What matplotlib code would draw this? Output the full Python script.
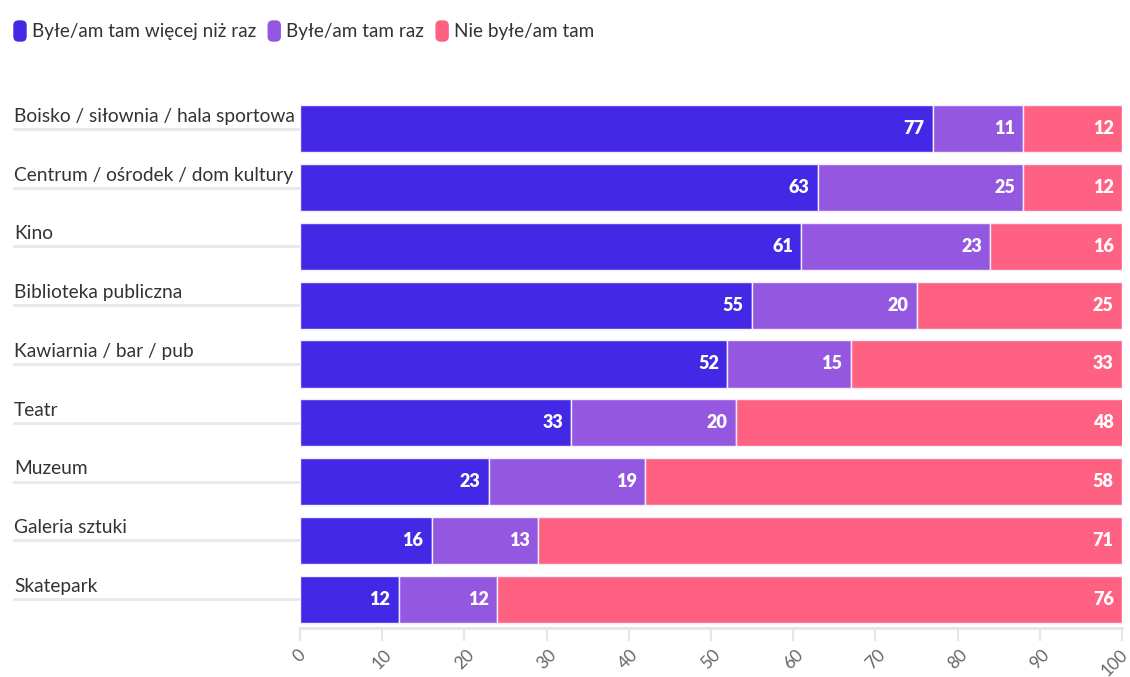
import matplotlib
matplotlib.use("Agg")
import matplotlib.pyplot as plt
from matplotlib.patches import FancyBboxPatch
from matplotlib.transforms import blended_transform_factory, ScaledTranslation
from matplotlib.lines import Line2D
import numpy as np

categories = [
    "Boisko / siłownia / hala sportowa",
    "Centrum / ośrodek / dom kultury",
    "Kino",
    "Biblioteka publiczna",
    "Kawiarnia / bar / pub",
    "Teatr",
    "Muzeum",
    "Galeria sztuki",
    "Skatepark",
]
series_names = ["Byłe/am tam więcej niż raz", "Byłe/am tam raz", "Nie byłe/am tam"]
more_than_once = [77, 63, 61, 55, 52, 33, 23, 16, 12]
once = [11, 25, 23, 20, 15, 20, 19, 13, 12]
never = [12, 12, 16, 25, 33, 48, 58, 71, 76]
x_ticks = [0, 10, 20, 30, 40, 50, 60, 70, 80, 90, 100]

colors = ["#4329E6", "#9457E0", "#FF6182"]
FONT = ["Lato", "DejaVu Sans"]
plt.rcParams["font.family"] = FONT

W, H = 1130, 677
fig = plt.figure(figsize=(W / 100, H / 100), dpi=100)
ax = fig.add_axes([300 / W, 1 - 628.4 / H, 822 / W, 528.8 / H])
XMAX = 100

y = np.arange(len(categories))
series = [more_than_once, once, never]
left = np.zeros(len(categories))

# faint row guide lines
for i in y:
    ax.axhline(i, color="#ececec", lw=2, zorder=0)

for vals, col in zip(series, colors):
    vals = np.array(vals, dtype=float)
    bars = ax.barh(y, vals, left=left, height=0.8, color=col,
                   edgecolor="#f4eefc", linewidth=1, zorder=2)
    for b, v in zip(bars, vals):
        end = min(b.get_x() + b.get_width(), XMAX)
        ax.annotate(f"{int(v)}", xy=(end, b.get_y() + b.get_height() / 2),
                    xytext=(-6, 0), textcoords="offset points",
                    ha="right", va="center", color="white", fontsize=13,
                    fontweight="heavy", zorder=3, clip_on=False)
    left = left + vals

ax.set_xlim(0, XMAX)
ax.set_ylim(len(categories) - 0.5, -0.5)
ax.set_xticks(x_ticks)
ax.set_xticklabels([str(t) for t in x_ticks], rotation=45, ha="center", va="top",
                   fontsize=12.5, color="#666666")
ax.tick_params(axis="x", length=9, width=1.5, color="#e6e6e6", pad=4)
# keep the last tick label inside the canvas
last = ax.get_xticklabels()[-1]
last.set_transform(last.get_transform() + ScaledTranslation(-5 / 72, 0, fig.dpi_scale_trans))
ax.set_yticks([])
for s in ["top", "right", "left"]:
    ax.spines[s].set_visible(False)
ax.spines["bottom"].set_color("#e6e6e6")
ax.spines["bottom"].set_linewidth(2)

# category labels above an underline on the left
tr = blended_transform_factory(fig.transFigure, ax.transData)
for i, name in enumerate(categories):
    ax.text(14 / W, i - 0.07, name, transform=tr, ha="left", va="bottom",
            fontsize=13.8, color="#333333", clip_on=False)
    ax.add_line(Line2D([14 / W, 300 / W], [i, i], transform=tr, color="#e8e8e8",
                       lw=2, clip_on=False, zorder=0))

# legend with rounded swatches
renderer = fig.canvas.get_renderer()
x = 14
yc = 1 - 31 / H
for name, col in zip(series_names, colors):
    patch = FancyBboxPatch((x / W, 1 - 41 / H), 12 / W, 20 / H,
                           boxstyle="round,pad=0,rounding_size=0.004",
                           transform=fig.transFigure, color=col,
                           mutation_aspect=W / H)
    fig.patches.append(patch)
    t = fig.text((x + 18) / W, yc, name, ha="left", va="center",
                 fontsize=13.6, color="#333333")
    bb = t.get_window_extent(renderer)
    x = bb.x1 + 12

fig.savefig("out.png", dpi=100)
